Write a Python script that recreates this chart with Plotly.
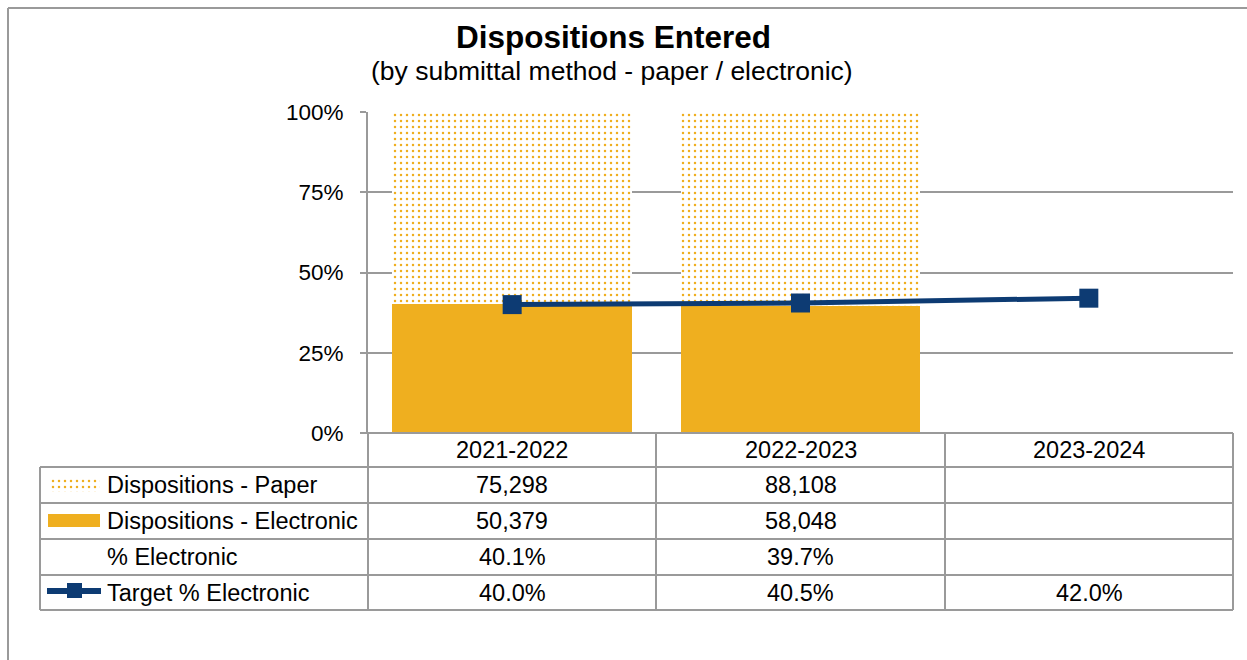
import plotly.graph_objects as go

# ---- data ----
categories = ["2021-2022", "2022-2023", "2023-2024"]
paper_counts = [75298, 88108, None]
electronic_counts = [50379, 58048, None]
target_pct = [40.0, 40.5, 42.0]
y_ticks = [0, 25, 50, 75, 100]
row_labels = ["Dispositions - Paper", "Dispositions - Electronic", "% Electronic", "Target % Electronic"]

ORANGE = "#EFAF1F"
NAVY = "#0D3B73"
GRID = "#9A9A9A"
FONT = "Arial, Liberation Sans, sans-serif"
W, H = 1247, 660
TXT = 23.5

def px(x):
    return x / W

def py(y):
    return 1 - y / H

fig = go.Figure()

pattern = dict(shape=".", fgcolor=ORANGE, bgcolor="white", size=6, solidity=0.14)

fig.add_trace(go.Bar(x=categories, y=electronic_counts, name="Dispositions - Electronic",
                     marker=dict(color=ORANGE, line=dict(width=0))))
fig.add_trace(go.Bar(x=categories, y=paper_counts, name="Dispositions - Paper",
                     marker=dict(color="white", line=dict(width=0), pattern=pattern)))
fig.add_trace(go.Scatter(x=categories, y=target_pct, name="Target % Electronic", mode="lines+markers",
                         line=dict(color=NAVY, width=5),
                         marker=dict(symbol="square", size=19, color=NAVY)))

# legend swatch for the patterned series (tiny hidden axis)
fig.add_trace(go.Bar(x=[0], y=[1], width=[1], xaxis="x2", yaxis="y2",
                     marker=dict(color="white", line=dict(width=0), pattern=pattern), hoverinfo="skip"))

plot_l, plot_r, plot_t, plot_b = 368, 1233, 112, 433
col_edges = [368, 656, 945, 1233]
row_edges = [433, 467, 503, 539, 575, 610]
table_left = 40

fig.update_layout(
    template="none",
    width=W, height=H, margin=dict(l=0, r=0, t=0, b=0, pad=0, autoexpand=False),
    paper_bgcolor="white", plot_bgcolor="white",
    barmode="stack", barnorm="percent", bargap=0.168,
    showlegend=False,
    font=dict(family=FONT, color="black", size=TXT),
    xaxis=dict(domain=[px(plot_l), px(plot_r)], showticklabels=False, showgrid=False, automargin=False,
               zeroline=False, showline=False, ticks="", range=[-0.5, 2.5], type="category"),
    yaxis=dict(domain=[py(plot_b), py(plot_t)], range=[0, 100], tickvals=y_ticks, automargin=False,
               ticktext=[f"{v}%" for v in y_ticks], showgrid=True, gridcolor=GRID, gridwidth=2,
               zeroline=False, showline=True, linecolor=GRID, linewidth=2,
               ticks="outside", ticklen=6, tickcolor=GRID, tickwidth=2,
               ticklabelstandoff=12, tickfont=dict(size=22.5, family=FONT)),
    xaxis2=dict(domain=[px(50), px(100)], range=[-0.5, 0.5], visible=False, anchor="y2", automargin=False),
    yaxis2=dict(domain=[py(492), py(478)], range=[0, 1], visible=False, anchor="x2", automargin=False),
)

shapes = []
line_style = dict(color=GRID, width=2)
# outer border (cropped chart frame)
shapes.append(dict(type="line", xref="paper", yref="paper", x0=px(8), x1=1, y0=py(8), y1=py(8), line=line_style))
shapes.append(dict(type="line", xref="paper", yref="paper", x0=px(8), x1=px(8), y0=py(8), y1=0, line=line_style))
# table horizontal lines
shapes.append(dict(type="line", xref="paper", yref="paper", x0=px(362), x1=px(1233), y0=py(433), y1=py(433), line=line_style))
for y in row_edges[1:]:
    shapes.append(dict(type="line", xref="paper", yref="paper", x0=px(table_left), x1=px(1233), y0=py(y), y1=py(y), line=line_style))
# vertical lines
for x in col_edges:
    shapes.append(dict(type="line", xref="paper", yref="paper", x0=px(x), x1=px(x), y0=py(433), y1=py(610), line=line_style))
shapes.append(dict(type="line", xref="paper", yref="paper", x0=px(table_left), x1=px(table_left), y0=py(467), y1=py(610), line=line_style))
# legend swatches
shapes.append(dict(type="rect", xref="paper", yref="paper", x0=px(48), x1=px(100), y0=py(527), y1=py(514),
                   fillcolor=ORANGE, line=dict(width=0)))
shapes.append(dict(type="line", xref="paper", yref="paper", x0=px(47), x1=px(101), y0=py(591), y1=py(591),
                   line=dict(color=NAVY, width=6)))
shapes.append(dict(type="rect", xref="paper", yref="paper", x0=px(67), x1=px(82), y0=py(598), y1=py(583),
                   fillcolor=NAVY, line=dict(width=0)))

annotations = []
annotations.append(dict(text="<b>Dispositions Entered</b>", x=px(613), y=py(37), xref="paper", yref="paper",
                        showarrow=False, font=dict(size=31.5, family=FONT), xanchor="center", yanchor="middle"))
annotations.append(dict(text="(by submittal method - paper / electronic)", x=px(612), y=py(71), xref="paper", yref="paper",
                        showarrow=False, font=dict(size=26.5, family=FONT), xanchor="center", yanchor="middle"))

row_centers = [(row_edges[i] + row_edges[i + 1]) / 2 for i in range(len(row_edges) - 1)]
col_centers = [(col_edges[i] + col_edges[i + 1]) / 2 for i in range(len(col_edges) - 1)]

def fmt_count(v):
    return "" if v is None else f"{v:,}"

pct_electronic = [None if (p is None or e is None) else e / (p + e) * 100 for p, e in zip(paper_counts, electronic_counts)]
rows = [
    [fmt_count(v) for v in paper_counts],
    [fmt_count(v) for v in electronic_counts],
    ["" if v is None else f"{v:.1f}%" for v in pct_electronic],
    ["" if v is None else f"{v:.1f}%" for v in target_pct],
]

for j, c in enumerate(categories):
    annotations.append(dict(text=c, x=px(col_centers[j]), y=py(row_centers[0]), xref="paper", yref="paper",
                            showarrow=False, xanchor="center", yanchor="middle", font=dict(size=TXT, family=FONT)))
for i, label in enumerate(row_labels):
    yc = py(row_centers[i + 1])
    annotations.append(dict(text=label, x=px(105), y=yc, xref="paper", yref="paper", showarrow=False,
                            xanchor="left", yanchor="middle", font=dict(size=TXT, family=FONT)))
    for j, val in enumerate(rows[i]):
        if val:
            annotations.append(dict(text=val, x=px(col_centers[j]), y=yc, xref="paper", yref="paper",
                                    showarrow=False, xanchor="center", yanchor="middle", font=dict(size=TXT, family=FONT)))

fig.update_layout(shapes=shapes, annotations=annotations)
fig.write_html(
    "out.html",
    config={"displayModeBar": False},
    post_script=(
        "var d=document.getElementById('{plot_id}');"
        "d.style.position='absolute';d.style.top='0px';d.style.left='0px';"
        "document.body.style.margin='0';document.body.style.overflow='hidden';"
        "document.documentElement.style.overflow='hidden';"
    ),
)
